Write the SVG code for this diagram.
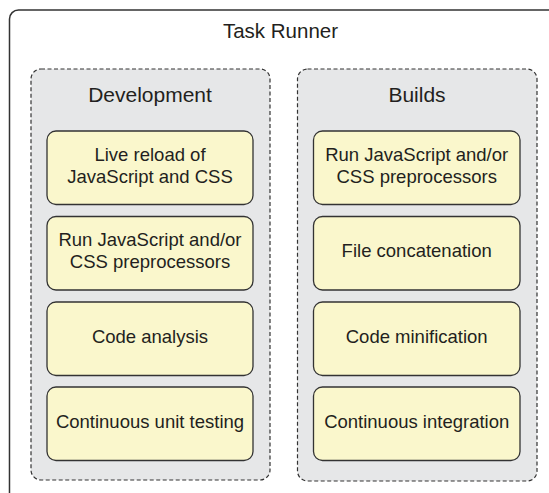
<svg xmlns="http://www.w3.org/2000/svg" width="549" height="493" viewBox="0 0 549 493">
<style>
.outer{fill:#ffffff;stroke:#333333;stroke-width:1.5}
.group{fill:#e6e7e8;stroke:#333333;stroke-width:1.2;stroke-dasharray:4 2.5}
.node{fill:#faf7cc;stroke:#333333;stroke-width:1.3}
text{font-family:"Liberation Sans",Arial,sans-serif;fill:#231f20;text-anchor:middle}
.t{font-size:20.5px}
.h{font-size:21px}
.n{font-size:18.5px}
</style>
<rect width="549" height="493" fill="#ffffff"/>
<g id="task-runner">
<rect class="outer" x="9.5" y="10" width="580" height="520" rx="9"/>
<text class="t" x="280.5" y="37.7">Task Runner</text>
</g>
<g id="development">
<rect class="group" x="31" y="69" width="239" height="411" rx="10"/>
<text class="h" x="150" y="101.7">Development</text>
</g>
<g id="builds">
<rect class="group" x="297.5" y="69" width="239.5" height="412" rx="10"/>
<text class="h" x="417" y="101.7">Builds</text>
</g>
<g id="dev-live-reload">
<rect class="node" x="47" y="131" width="206" height="73.5" rx="9"/>
<text class="n" x="150" y="160.5">Live reload of</text>
<text class="n" x="150" y="183">JavaScript and CSS</text>
</g>
<g id="dev-preprocessors">
<rect class="node" x="47" y="216.5" width="206" height="73.5" rx="9"/>
<text class="n" x="150" y="246">Run JavaScript and/or</text>
<text class="n" x="150" y="268.3">CSS preprocessors</text>
</g>
<g id="dev-code-analysis">
<rect class="node" x="47" y="302" width="206" height="73.5" rx="9"/>
<text class="n" x="150" y="342.7">Code analysis</text>
</g>
<g id="dev-unit-testing">
<rect class="node" x="47" y="387" width="206" height="73.5" rx="9"/>
<text class="n" x="150" y="427.7">Continuous unit testing</text>
</g>
<g id="build-preprocessors">
<rect class="node" x="313.5" y="131" width="206.5" height="73.5" rx="9"/>
<text class="n" x="416.7" y="160.5">Run JavaScript and/or</text>
<text class="n" x="416.7" y="183">CSS preprocessors</text>
</g>
<g id="build-concatenation">
<rect class="node" x="313.5" y="216.5" width="206.5" height="73.5" rx="9"/>
<text class="n" x="416.7" y="256.7">File concatenation</text>
</g>
<g id="build-minification">
<rect class="node" x="313.5" y="302" width="206.5" height="73.5" rx="9"/>
<text class="n" x="416.7" y="342.7">Code minification</text>
</g>
<g id="build-integration">
<rect class="node" x="313.5" y="387" width="206.5" height="73.5" rx="9"/>
<text class="n" x="416.7" y="427.7">Continuous integration</text>
</g>
<g id="connectors"></g>
</svg>
